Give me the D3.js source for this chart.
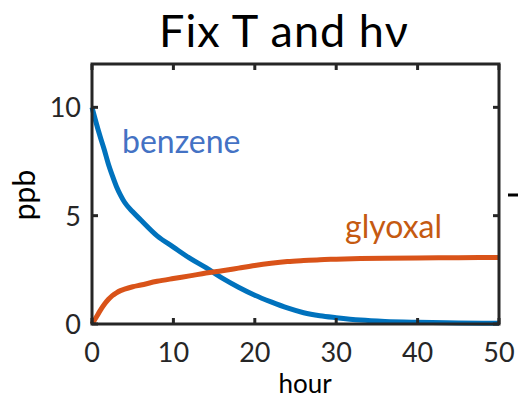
<!DOCTYPE html>
<html><head><meta charset="utf-8">
<script src="https://cdn.jsdelivr.net/npm/d3@7"></script>
<style>body{margin:0;background:#fff}svg{display:block}</style>
</head><body>
<script>
const hours = [0,0.5,1,1.5,2,2.5,3,3.5,4,5,6,8,10,12,14,16,18,20,22,24,26,28,30,33,36,40,45,50];
const benzene = [10,9.3,8.65,8.05,7.4,6.85,6.35,5.95,5.62,5.18,4.8,4.07,3.55,3.04,2.6,2.12,1.7,1.33,1.02,0.74,0.52,0.38,0.29,0.18,0.12,0.08,0.05,0.03];
const glyoxal = [0,0.3,0.62,0.9,1.13,1.31,1.44,1.54,1.61,1.72,1.8,1.97,2.1,2.22,2.35,2.46,2.58,2.7,2.8,2.88,2.93,2.97,2.99,3.02,3.04,3.05,3.06,3.07];
const xTicks = [0,10,20,30,40,50];
const yTicks = [0,5,10];
const seriesNames = ["benzene","glyoxal"];

const W=518,H=398;
const m={l:92,r:19,t:64,b:74};
const svg=d3.select("body").append("svg").attr("width",W).attr("height",H);
const x=d3.scaleLinear().domain([0,50]).range([m.l,W-m.r]);
const y=d3.scaleLinear().domain([0,12]).range([H-m.b,m.t]);
const axc="#262626", font="Lato, 'Open Sans', sans-serif";

const line=d3.line().x((d,i)=>x(hours[i])).y(d=>y(d)).curve(d3.curveMonotoneX);
const g=svg.append("g");
g.append("path").attr("d",line(benzene)).attr("fill","none").attr("stroke","#0072BD").attr("stroke-width",5);
g.append("path").attr("d",line(glyoxal)).attr("fill","none").attr("stroke","#D95319").attr("stroke-width",5);

// box
svg.append("rect").attr("x",x(0)).attr("y",y(12)).attr("width",x(50)-x(0)).attr("height",y(0)-y(12))
  .attr("fill","none").attr("stroke",axc).attr("stroke-width",3);

const tl=6;
xTicks.forEach(t=>{
  svg.append("line").attr("x1",x(t)).attr("x2",x(t)).attr("y1",y(0)).attr("y2",y(0)-tl).attr("stroke",axc).attr("stroke-width",3);
  svg.append("line").attr("x1",x(t)).attr("x2",x(t)).attr("y1",y(12)).attr("y2",y(12)+tl).attr("stroke",axc).attr("stroke-width",3);
  svg.append("text").attr("x",x(t)).attr("y",y(0)+38).attr("text-anchor","middle").attr("font-family",font).attr("font-size",27).attr("fill",axc).text(t);
});
yTicks.forEach(t=>{
  svg.append("line").attr("x1",x(0)).attr("x2",x(0)+tl).attr("y1",y(t)).attr("y2",y(t)).attr("stroke",axc).attr("stroke-width",3);
  svg.append("line").attr("x1",x(50)).attr("x2",x(50)-tl).attr("y1",y(t)).attr("y2",y(t)).attr("stroke",axc).attr("stroke-width",3);
  svg.append("text").attr("x",x(0)-11).attr("y",y(t)+10).attr("text-anchor","end").attr("font-family",font).attr("font-size",27).attr("fill",axc).text(t);
});

svg.append("text").attr("x",305).attr("y",393).attr("text-anchor","middle").attr("font-family",font).attr("font-size",26).attr("fill","#000").text("hour");
svg.append("text").attr("transform","translate(35,195) rotate(-90)").attr("text-anchor","middle").attr("font-family",font).attr("font-size",30).attr("fill","#000").text("ppb");
svg.append("text").attr("x",284).attr("y",47).attr("text-anchor","middle").attr("font-family",font).attr("font-size",45).attr("letter-spacing",1).attr("fill","#000").text("Fix T and hν");

svg.append("text").attr("x",122).attr("y",153).attr("font-family",font).attr("font-size",32).attr("fill","#4472C4").text(seriesNames[0]);
svg.append("text").attr("x",345).attr("y",238).attr("font-family",font).attr("font-size",32).attr("fill","#C55A11").text(seriesNames[1]);

svg.append("line").attr("x1",508).attr("x2",518).attr("y1",195).attr("y2",195).attr("stroke","#000").attr("stroke-width",3);
</script>
</body></html>
